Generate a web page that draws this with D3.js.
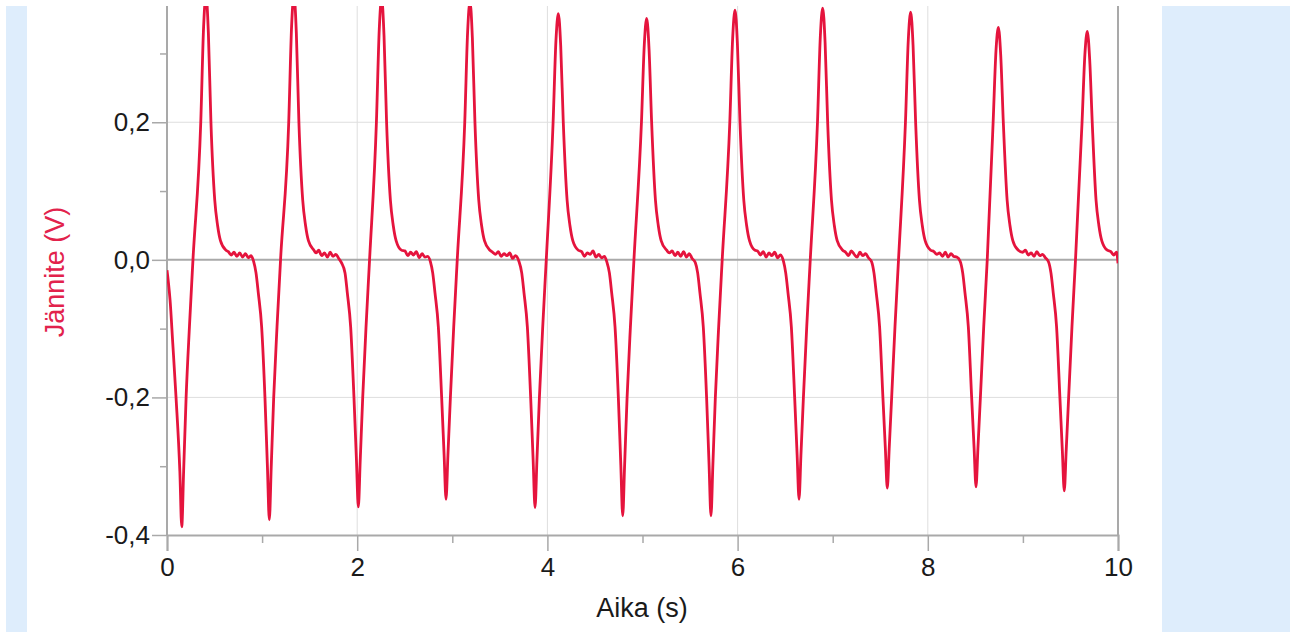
<!DOCTYPE html>
<html>
<head>
<meta charset="utf-8">
<script src="https://cdn.jsdelivr.net/npm/d3@7/dist/d3.min.js"></script>
<style>
  html, body { margin: 0; padding: 0; background: #ffffff; }
  svg { display: block; }
  text { font-family: "Liberation Sans", Arial, sans-serif; }
</style>
</head>
<body>
<svg id="chart" width="1290" height="632"></svg>
<script>
// ---- data (time in s, voltage in V) ----
const pulse01 = [[0.000,-0.015],[0.015,-0.033],[0.032,-0.058],[0.060,-0.120],[0.095,-0.200],[0.135,-0.307],[0.155,-0.388],[0.175,-0.307],[0.201,-0.200],[0.236,-0.097],[0.273,0.000],[0.355,0.200],[0.385,0.339],[0.410,0.385],[0.435,0.330],[0.462,0.200],[0.502,0.087],[0.532,0.050],[0.562,0.028],[0.620,0.014],
  [0.645,0.012],[0.675,0.007],[0.705,0.011],[0.735,0.005],[0.765,0.010],[0.795,0.004],[0.825,0.009],[0.855,0.003],[0.885,0.006],[0.910,-0.002]];
const pulse02 = [[0.936,-0.019],[0.960,-0.048],[0.995,-0.097],[1.030,-0.200],[1.056,-0.301],[1.076,-0.378],[1.096,-0.301],[1.122,-0.200],[1.157,-0.097],[1.194,0.000],[1.280,0.200],[1.310,0.339],[1.335,0.385],[1.360,0.330],[1.387,0.200],[1.427,0.087],[1.457,0.050],[1.487,0.028],[1.545,0.014],
  [1.566,0.010],[1.596,0.014],[1.626,0.006],[1.656,0.010],[1.686,0.004],[1.716,0.011],[1.746,0.005],[1.776,0.008],[1.806,0.002],[1.834,-0.004]];
const pulse03 = [[1.872,-0.019],[1.896,-0.048],[1.931,-0.097],[1.966,-0.200],[1.992,-0.291],[2.012,-0.359],[2.032,-0.291],[2.058,-0.200],[2.093,-0.097],[2.130,0.000],[2.202,0.200],[2.232,0.335],[2.257,0.380],[2.282,0.326],[2.309,0.200],[2.349,0.087],[2.379,0.050],[2.409,0.028],[2.467,0.014],
  [2.502,0.013],[2.532,0.006],[2.562,0.011],[2.592,0.007],[2.622,0.012],[2.652,0.003],[2.682,0.009],[2.712,0.004],[2.742,0.005],[2.770,-0.003]];
const pulse04 = [[2.794,-0.019],[2.818,-0.048],[2.853,-0.097],[2.888,-0.200],[2.914,-0.284],[2.934,-0.348],[2.954,-0.284],[2.980,-0.200],[3.015,-0.097],[3.052,0.000],[3.131,0.200],[3.161,0.331],[3.186,0.375],[3.211,0.323],[3.238,0.200],[3.278,0.087],[3.308,0.050],[3.338,0.028],[3.396,0.014],
  [3.424,0.011],[3.454,0.008],[3.484,0.012],[3.514,0.005],[3.544,0.009],[3.574,0.006],[3.604,0.010],[3.634,0.002],[3.664,0.006],[3.700,-0.002]];
const pulse05 = [[3.730,-0.019],[3.754,-0.048],[3.789,-0.097],[3.824,-0.200],[3.850,-0.291],[3.870,-0.360],[3.890,-0.291],[3.916,-0.200],[3.951,-0.097],[3.988,0.000],[4.060,0.200],[4.090,0.319],[4.115,0.358],[4.140,0.311],[4.167,0.200],[4.207,0.087],[4.237,0.050],[4.267,0.028],[4.325,0.014],
  [4.360,0.012],[4.390,0.005],[4.420,0.010],[4.450,0.008],[4.480,0.013],[4.510,0.004],[4.540,0.008],[4.570,0.003],[4.600,0.005],[4.625,-0.003]];
const pulse06 = [[4.652,-0.019],[4.676,-0.048],[4.711,-0.097],[4.746,-0.200],[4.772,-0.298],[4.792,-0.372],[4.812,-0.298],[4.838,-0.200],[4.873,-0.097],[4.910,0.000],[4.989,0.200],[5.019,0.313],[5.044,0.351],[5.069,0.306],[5.096,0.200],[5.136,0.087],[5.166,0.050],[5.196,0.028],[5.254,0.014],
  [5.282,0.010],[5.312,0.013],[5.342,0.006],[5.372,0.011],[5.402,0.005],[5.432,0.012],[5.462,0.004],[5.492,0.009],[5.522,0.002],[5.555,-0.004]];
const pulse07 = [[5.580,-0.019],[5.604,-0.048],[5.639,-0.097],[5.674,-0.200],[5.700,-0.298],[5.720,-0.372],[5.740,-0.298],[5.766,-0.200],[5.801,-0.097],[5.838,0.000],[5.918,0.200],[5.948,0.322],[5.973,0.363],[5.998,0.314],[6.025,0.200],[6.065,0.087],[6.095,0.050],[6.125,0.028],[6.183,0.014],
  [6.210,0.013],[6.240,0.007],[6.270,0.012],[6.300,0.004],[6.330,0.010],[6.360,0.006],[6.390,0.011],[6.420,0.003],[6.450,0.007],[6.482,-0.002]];
const pulse08 = [[6.506,-0.019],[6.530,-0.048],[6.565,-0.097],[6.600,-0.200],[6.626,-0.284],[6.646,-0.348],[6.666,-0.284],[6.692,-0.200],[6.727,-0.097],[6.764,0.000],[6.840,0.200],[6.870,0.325],[6.895,0.366],[6.920,0.316],[6.947,0.200],[6.987,0.087],[7.017,0.050],[7.047,0.028],[7.105,0.014],
  [7.136,0.011],[7.166,0.006],[7.196,0.013],[7.226,0.008],[7.256,0.004],[7.286,0.011],[7.316,0.006],[7.346,0.009],[7.376,0.003],[7.410,-0.003]];
const pulse09 = [[7.434,-0.019],[7.458,-0.048],[7.493,-0.097],[7.528,-0.200],[7.554,-0.275],[7.574,-0.332],[7.594,-0.275],[7.620,-0.200],[7.655,-0.097],[7.692,0.000],[7.765,0.200],[7.795,0.320],[7.820,0.360],[7.845,0.312],[7.872,0.200],[7.912,0.087],[7.942,0.050],[7.972,0.028],[8.030,0.014],
  [8.064,0.012],[8.094,0.008],[8.124,0.010],[8.154,0.005],[8.184,0.011],[8.214,0.004],[8.244,0.009],[8.274,0.005],[8.304,0.004],[8.340,-0.002]];
const pulse10 = [[8.367,-0.019],[8.391,-0.048],[8.426,-0.097],[8.461,-0.200],[8.487,-0.274],[8.507,-0.330],[8.527,-0.274],[8.553,-0.200],[8.588,-0.097],[8.625,0.000],[8.687,0.200],[8.717,0.304],[8.742,0.338],[8.767,0.297],[8.794,0.200],[8.834,0.087],[8.864,0.050],[8.894,0.028],[8.952,0.014],
  [8.997,0.011],[9.027,0.014],[9.057,0.007],[9.087,0.010],[9.117,0.005],[9.147,0.012],[9.177,0.006],[9.207,0.008],[9.237,0.003],[9.270,-0.003]];
const pulse11 = [[9.295,-0.019],[9.319,-0.048],[9.354,-0.097],[9.389,-0.200],[9.415,-0.278],[9.435,-0.336],[9.455,-0.278],[9.481,-0.200],[9.516,-0.097],[9.553,0.000],[9.622,0.200],[9.652,0.299],[9.677,0.332],[9.702,0.292],[9.729,0.200],[9.769,0.087],[9.799,0.050],[9.829,0.028],[9.887,0.014],
  [9.925,0.012],[9.955,0.007],[9.985,0.011],[10.000,-0.005]];

const xMajorTicks = [0, 2, 4, 6, 8, 10];
const xMinorTicks = [1, 3, 5, 7, 9];
const yMajorTicks = [-0.4, -0.2, 0.0, 0.2];
const yMinorTicks = [-0.3, -0.1, 0.1, 0.3];
const yTickLabels = ["-0,4", "-0,2", "0,0", "0,2"];
const xTitle = "Aika (s)";
const yTitle = "Jännite (V)";

const samples = [].concat(pulse01, pulse02, pulse03, pulse04, pulse05, pulse06,
                          pulse07, pulse08, pulse09, pulse10, pulse11);

// ---- layout ----
const svg = d3.select("#chart");
const L = 167, R = 1118, T = 6, B = 535;
const x = d3.scaleLinear().domain([0, 10]).range([L, R]);
const y = d3.scaleLinear().domain([-0.4, 0.369]).range([B, T]);

const RED = "#e5143d";
const AXIS = "#a9a9a9";
const GRID = "#dedede";

// side panels
svg.append("rect").attr("x", 6).attr("y", 6).attr("width", 21).attr("height", 626).attr("fill", "#deedfc");
svg.append("rect").attr("x", 1162).attr("y", 6).attr("width", 128).attr("height", 626).attr("fill", "#deedfc");

// grid
const grid = svg.append("g");
grid.selectAll(".gx").data([2, 4, 6, 8]).join("line")
  .attr("x1", d => x(d)).attr("x2", d => x(d)).attr("y1", T).attr("y2", B)
  .attr("stroke", GRID).attr("stroke-width", 1);
grid.selectAll(".gy").data([-0.2, 0.2]).join("line")
  .attr("x1", L).attr("x2", R).attr("y1", d => y(d)).attr("y2", d => y(d))
  .attr("stroke", GRID).attr("stroke-width", 1);
// zero line
svg.append("line").attr("x1", L).attr("x2", R).attr("y1", y(0)).attr("y2", y(0))
  .attr("stroke", AXIS).attr("stroke-width", 2);
// right border
svg.append("line").attr("x1", R).attr("x2", R).attr("y1", T).attr("y2", B)
  .attr("stroke", AXIS).attr("stroke-width", 2);

// axes
const fmtY = d => yTickLabels[yMajorTicks.indexOf(d)];
const yAxis = svg.append("g").attr("transform", `translate(${L},0)`)
  .call(d3.axisLeft(y).tickValues(yMajorTicks).tickSize(15).tickPadding(2).tickFormat(fmtY));
const yMinor = svg.append("g").attr("transform", `translate(${L},0)`)
  .call(d3.axisLeft(y).tickValues(yMinorTicks).tickSize(7).tickFormat(""));
const xAxis = svg.append("g").attr("transform", `translate(0,${B})`)
  .call(d3.axisBottom(x).tickValues(xMajorTicks).tickSize(16).tickPadding(7).tickFormat(d3.format("d")));
const xMinor = svg.append("g").attr("transform", `translate(0,${B})`)
  .call(d3.axisBottom(x).tickValues(xMinorTicks).tickSize(8).tickFormat(""));

[yAxis, yMinor, xAxis, xMinor].forEach(g => {
  g.select(".domain").attr("stroke", AXIS).attr("stroke-width", 2);
  g.selectAll(".tick line").attr("stroke", AXIS).attr("stroke-width", 1.5);
  g.selectAll(".tick text").attr("fill", "#1a1a1a").style("font-size", "26px")
    .style("font-family", "'Liberation Sans', Arial, sans-serif");
});
yAxis.select(".domain").attr("d", `M0,${T}V${B}`);
yMinor.select(".domain").remove();
xMinor.select(".domain").remove();

// titles
svg.append("text").attr("x", 642).attr("y", 617).attr("text-anchor", "middle")
  .attr("fill", "#1a1a1a").style("font-size", "27px").text(xTitle);
svg.append("text").attr("transform", "translate(64,272) rotate(-90)").attr("text-anchor", "middle")
  .attr("fill", "#e2224c").style("font-size", "27px").text(yTitle);

// trace
svg.append("clipPath").attr("id", "plotclip").append("rect")
  .attr("x", L).attr("y", T).attr("width", R - L).attr("height", B - T);
const line = d3.line().x(d => x(d[0])).y(d => y(d[1])).curve(d3.curveMonotoneX);
svg.append("path").datum(samples).attr("clip-path", "url(#plotclip)")
  .attr("d", line).attr("fill", "none").attr("stroke", RED)
  .attr("stroke-width", 2.8).attr("stroke-linejoin", "round");
</script>
</body>
</html>
